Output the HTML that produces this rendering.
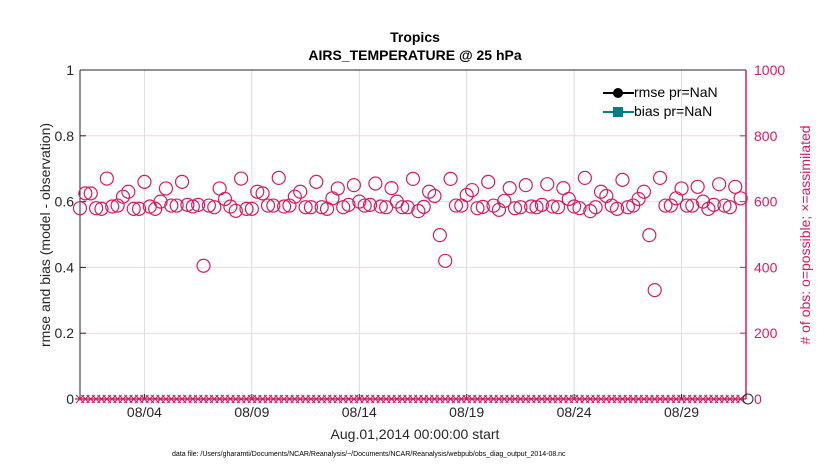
<!DOCTYPE html>
<html><head><meta charset="utf-8"><style>
body{margin:0;background:#fff;font-family:"Liberation Sans",sans-serif}
svg text{font-family:"Liberation Sans",sans-serif}
</style></head><body>
<svg id="c" width="830" height="470" xmlns="http://www.w3.org/2000/svg"></svg>
<script>
const obsCounts=[580,625,625,580,578,670,585,588,615,630,578,578,660,585,578,600,640,588,588,660,590,585,590,405,588,583,640,608,585,572,670,578,578,630,625,588,588,672,585,588,615,630,583,583,660,583,578,610,640,583,590,650,600,588,590,655,585,583,641,600,583,583,669,
571,584,630,617,498,420,669,588,588,620,635,580,584,660,588,575,602,641,580,583,650,585,583,590,653,585,583,641,608,585,580,672,571,583,630,617,588,578,666,583,588,608,630,498,331,672,588,588,610,640,588,588,645,600,578,590,653,588,583,645,610];
const assimCounts=obsCounts.map(()=>0);
const dateTicks=[3,8,13,18,23,28];
const dateLabels=["08/04","08/09","08/14","08/19","08/24","08/29"];
const leftTicks=[0,0.2,0.4,0.6,0.8,1];
const rightTicks=[0,200,400,600,800,1000];

const L=80,R=746,T=70,B=399,RED="#d81b60";
const xs=d=>L+d*(R-L)/31;
const yl=v=>B-v*(B-T);
const yr=v=>B-v/1000*(B-T);
const svg=document.getElementById('c');
function el(t,a,txt){const e=document.createElementNS("http://www.w3.org/2000/svg",t);for(const k in a)e.setAttribute(k,a[k]);if(txt!=null)e.textContent=txt;svg.appendChild(e);return e;}

// grid
dateTicks.forEach((d,i)=>{
 const g=el('line',{x1:xs(d),x2:xs(d),y1:T,y2:B,stroke:'#ddd','stroke-width':1});
 
 
 const t=el('text',{x:xs(d),y:B+18,'text-anchor':'middle','font-size':14,fill:'#262626'},dateLabels[i]);
 
 
 el('line',{x1:xs(d),x2:xs(d),y1:B,y2:B-5,stroke:'#262626'});
});
rightTicks.forEach(v=>{
 if(v>0&&v<1000){const g=el('line',{x1:L,x2:R,y1:yr(v),y2:yr(v),stroke:'#f3d4df','stroke-width':1});
 
 }
 const t=el('text',{x:R+8,y:yr(v)+5,'font-size':14,fill:RED},String(v));
 
 
 el('line',{x1:R,x2:R-6,y1:yr(v),y2:yr(v),stroke:RED});
});
leftTicks.forEach(v=>{
 const t=el('text',{x:L-6,y:yl(v)+5,'text-anchor':'end','font-size':14,fill:'#262626'},String(v));
 
 
 el('line',{x1:L,x2:L+6,y1:yl(v),y2:yl(v),stroke:'#262626'});
});
// axes
el('line',{x1:L,x2:R,y1:T,y2:T,stroke:'#262626'});
el('line',{x1:L,x2:R,y1:B,y2:B,stroke:'#262626'});
el('line',{x1:L,x2:L,y1:T,y2:B,stroke:'#262626'});
el('line',{x1:R,x2:R,y1:T,y2:B,stroke:RED,'stroke-width':1.5});
// points
obsCounts.forEach((v,i)=>{
 const x=xs(i*0.25);
 const c=el('circle',{cx:x,cy:yr(v),r:6.5,fill:'none',stroke:RED,'stroke-width':1.2});
 
 
 const y=yr(assimCounts[i]);
 const m=el('path',{d:`M${x-4} ${y-4}L${x+4} ${y+4}M${x-4} ${y+4}L${x+4} ${y-4}M${x-5} ${y}L${x+5} ${y}`,stroke:RED,'stroke-width':1.2});
 
 
});
el('circle',{cx:R+2,cy:B,r:5,fill:'none',stroke:'#262626','stroke-width':1});
</script>
<div style="position:absolute;left:0;top:0;width:830px;height:470px;pointer-events:none">
<div style="position:absolute;left:0;width:830px;top:29px;text-align:center;font-weight:bold;font-size:14px;color:#000">Tropics</div>
<div style="position:absolute;left:0;width:830px;top:47px;text-align:center;font-weight:bold;font-size:14px;color:#000">AIRS_TEMPERATURE @ 25 hPa</div>
<div style="position:absolute;left:0;width:830px;top:426px;text-align:center;font-size:14px;color:#262626">Aug.01,2014 00:00:00 start</div>
<div style="position:absolute;left:172px;top:451px;font-size:7px;color:#000">data file: /Users/gharamti/Documents/NCAR/Reanalysis/~/Documents/NCAR/Reanalysis/webpub/obs_diag_output_2014-08.nc</div>
<div style="position:absolute;left:45px;top:235px;transform:translate(-50%,-50%) rotate(-90deg);white-space:nowrap;font-size:14px;color:#262626">rmse and bias (model - observation)</div>
<div style="position:absolute;left:805px;top:235px;transform:translate(-50%,-50%) rotate(-90deg);white-space:nowrap;font-size:14px;color:#d81b60"># of obs: o=possible; ×=assimilated</div>
<div style="position:absolute;left:603px;top:83px;font-size:14px;color:#000;line-height:19px">
 <div style="display:flex;align-items:center"><svg width="31" height="12"><line x1="0" y1="6" x2="31" y2="6" stroke="#000" stroke-width="2"/><circle cx="15" cy="6" r="5" fill="#000"/></svg>rmse pr=NaN</div>
 <div style="display:flex;align-items:center"><svg width="31" height="12"><line x1="0" y1="6" x2="31" y2="6" stroke="#008080" stroke-width="2"/><rect x="10" y="1" width="10" height="10" fill="#008080"/></svg>bias pr=NaN</div>
</div>
</div>
</body></html>
